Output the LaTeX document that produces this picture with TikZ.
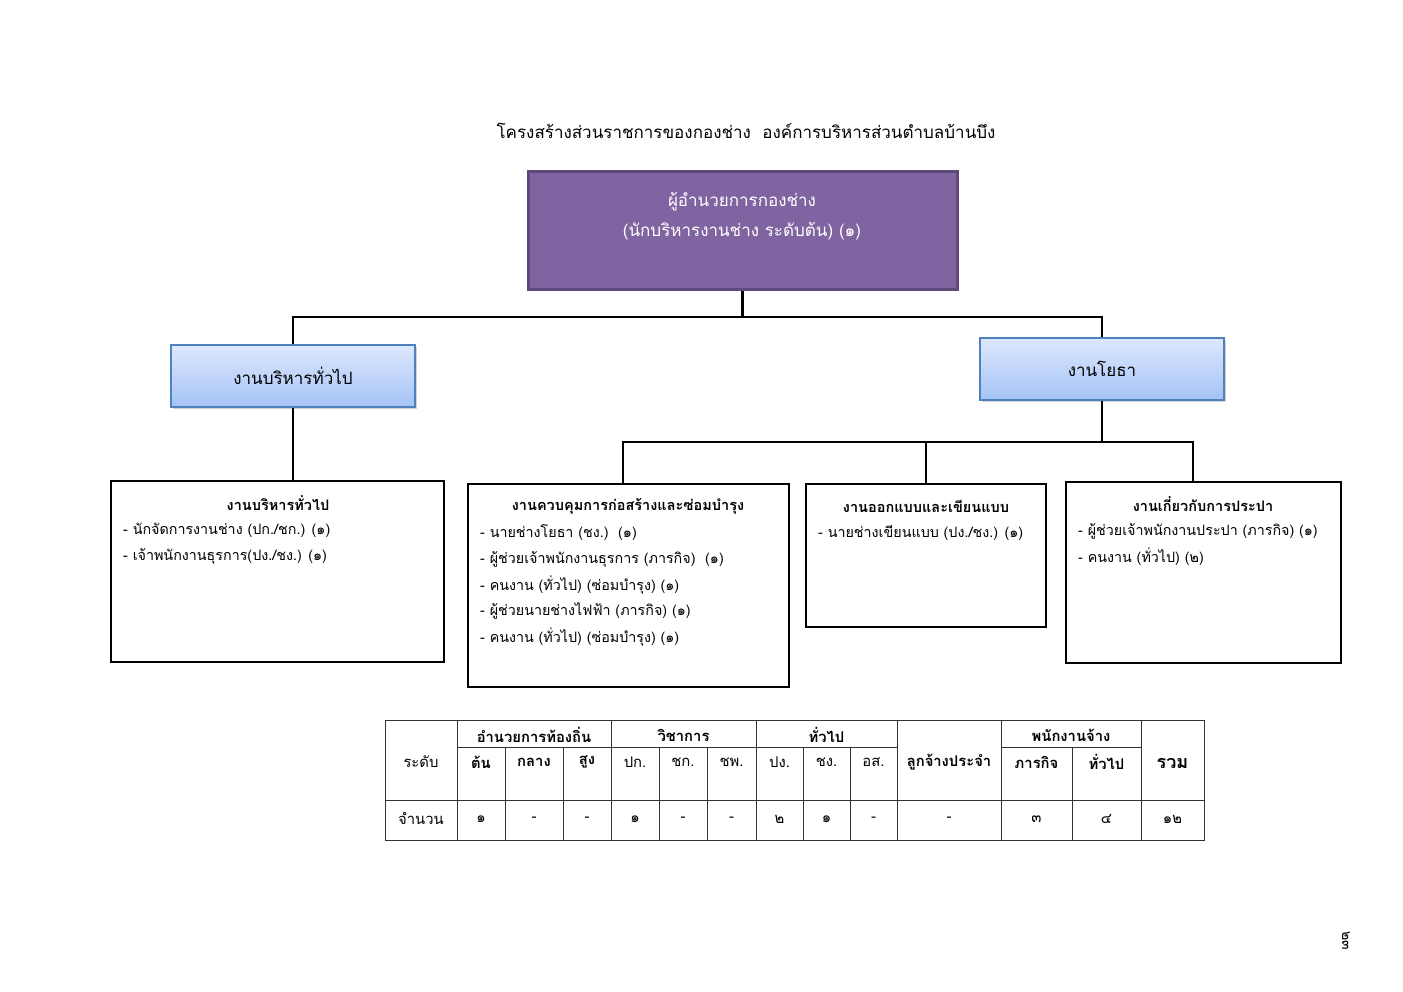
\documentclass[tikz,border=0pt]{standalone}
\usepackage{fontspec}
\setmainfont[Script=Thai]{Loma}
\usetikzlibrary{shadows,calc}
\definecolor{dirfill}{HTML}{8064A2}
\definecolor{dirline}{HTML}{5F497A}
\definecolor{secline}{HTML}{4F81BD}
\definecolor{sectop}{HTML}{DDE8FD}
\definecolor{secbot}{HTML}{A5C3F6}
\tikzset{
 dirbox/.style={draw=dirline, line width=3pt, fill=dirfill, minimum width=429pt, minimum height=118pt, inner sep=0pt},
 secbox/.style={draw=secline, line width=1.5pt, top color=sectop, bottom color=secbot, minimum width=244pt, minimum height=62pt, inner sep=0pt, drop shadow={opacity=0.35, shadow xshift=2pt, shadow yshift=-2pt}, font=\fontsize{17}{19}\selectfont},
 workbox/.style={draw=black, line width=2pt, inner sep=0pt},
 conn/.style={line width=2.5pt, black},
 wtitle/.style={font=\bfseries\fontsize{14.5}{16}\selectfont, inner sep=0pt},
 witem/.style={anchor=west, font=\fontsize{14.3}{16}\selectfont, inner sep=0pt},
 tline/.style={line width=0.8pt, black!80},
 th/.style={font=\bfseries\fontsize{14.8}{16}\selectfont, inner sep=0pt},
 td/.style={font=\fontsize{14.8}{16}\selectfont, inner sep=0pt},
}
\begin{document}
\begin{tikzpicture}[x=1pt,y=-1pt]
\useasboundingbox[fill=white] (0,0) rectangle (1403,992);
% title
\node[font=\fontsize{17}{19}\selectfont, inner sep=0pt] (title) at (746,131) {โครงสร้างส่วนราชการของกองช่าง\ \ องค์การบริหารส่วนตำบลบ้านบึง};
% director
\node[dirbox] (dir) at (742.5,231) {};
\node[text=white, font=\fontsize{17}{30}\selectfont, align=center, inner sep=0pt] (dirtext) at (742,216) {ผู้อำนวยการกองช่าง\\(นักบริหารงานช่าง ระดับต้น) (๑)};
% sections
\node[secbox] (adm) at (293,376) {งานบริหารทั่วไป};
\node[secbox] (civ) at (1102,369) {งานโยธา};
% work boxes
\node[workbox, minimum width=333pt, minimum height=181pt] (b1) at (277.5,571.5) {};
\node[workbox, minimum width=321pt, minimum height=203pt] (w1) at (628.5,585.5) {};
\node[workbox, minimum width=240pt, minimum height=143pt] (w2) at (926,555.5) {};
\node[workbox, minimum width=275pt, minimum height=181pt] (w3) at (1203.5,572.5) {};
% connectors
\coordinate (j1) at (742.5,317);
\coordinate (j2) at (1102,442);
\draw[conn] (dir.south) -- (j1);
\draw[conn] (j1) -| (adm.north);
\draw[conn] (j1) -| (civ.north);
\draw[conn] (adm.south) -- (adm.south |- b1.north);
\draw[conn] (civ.south) -- (j2);
\draw[conn] (j2) -| ([xshift=-5.5pt]w1.north);
\draw[conn] (j2) -| (w2.north);
\draw[conn] (j2) -| ([xshift=-10.5pt]w3.north);
% box 1 text
\node[wtitle] (b1t) at (278,503) {งานบริหารทั่วไป};
\node[witem] (b1i1) at (123,530) {- นักจัดการงานช่าง (ปก./ชก.) (๑)};
\node[witem] (b1i2) at (123,556) {- เจ้าพนักงานธุรการ(ปง./ชง.) (๑)};
% box w1 text
\node[wtitle] (w1t) at (628,506) {งานควบคุมการก่อสร้างและซ่อมบำรุง};
\node[witem] (w1i1) at (480,533) {- นายช่างโยธา (ชง.)\ \ (๑)};
\node[witem] (w1i2) at (480,559) {- ผู้ช่วยเจ้าพนักงานธุรการ (ภารกิจ)\ \ (๑)};
\node[witem] (w1i3) at (480,585) {- คนงาน (ทั่วไป) (ซ่อมบำรุง) (๑)};
\node[witem] (w1i4) at (480,611) {- ผู้ช่วยนายช่างไฟฟ้า (ภารกิจ) (๑)};
\node[witem] (w1i5) at (480,637) {- คนงาน (ทั่วไป) (ซ่อมบำรุง) (๑)};
% box w2 text
\node[wtitle] (w2t) at (926,506) {งานออกแบบและเขียนแบบ};
\node[witem] (w2i1) at (818,533) {- นายช่างเขียนแบบ (ปง./ชง.) (๑)};
% box w3 text
\node[wtitle] (w3t) at (1203,504) {งานเกี่ยวกับการประปา};
\node[witem] (w3i1) at (1078,531) {- ผู้ช่วยเจ้าพนักงานประปา (ภารกิจ) (๑)};
\node[witem] (w3i2) at (1078,557) {- คนงาน (ทั่วไป) (๒)};
% table
\draw[tline] (385,720) rectangle (1204,840);
\draw[tline] (385,800) -- (1204,800);
\draw[tline] (457,747) -- (897,747);
\draw[tline] (1001,747) -- (1141,747);
\foreach \x in {457,611,756,897,1001,1141} \draw[tline] (\x,720) -- (\x,840);
\foreach \x in {505,563,659,707,803,850,1072} \draw[tline] (\x,747) -- (\x,840);
\node[th] (g1) at (534,735) {อำนวยการท้องถิ่น};
\node[th] (g2) at (683.5,735) {วิชาการ};
\node[th] (g3) at (826.5,735) {ทั่วไป};
\node[th] (g4) at (1071,735) {พนักงานจ้าง};
\node[td] (h0) at (421,762) {ระดับ};
\node[th] (h1) at (481,762) {ต้น};
\node[th] (h2) at (534,762) {กลาง};
\node[th] (h3) at (587,762) {สูง};
\node[td] (h4) at (635,762) {ปก.};
\node[td] (h5) at (683,762) {ชก.};
\node[td] (h6) at (731.5,762) {ชพ.};
\node[td] (h7) at (779.5,762) {ปง.};
\node[td] (h8) at (826.5,762) {ชง.};
\node[td] (h9) at (873.5,762) {อส.};
\node[th] (h10) at (949,762) {ลูกจ้างประจำ};
\node[th] (h11) at (1036.5,762) {ภารกิจ};
\node[th] (h12) at (1106.5,762) {ทั่วไป};
\node[th, font=\bfseries\fontsize{18}{20}\selectfont] (h13) at (1172.5,763) {รวม};
\node[td] (d0) at (421,819) {จำนวน};
\node[td] (d1) at (481,819) {๑};
\node[td] (d2) at (534,819) {-};
\node[td] (d3) at (587,819) {-};
\node[td] (d4) at (635,819) {๑};
\node[td] (d5) at (683,819) {-};
\node[td] (d6) at (731.5,819) {-};
\node[td] (d7) at (779.5,819) {๒};
\node[td] (d8) at (826.5,819) {๑};
\node[td] (d9) at (873.5,819) {-};
\node[td] (d10) at (949,819) {-};
\node[td] (d11) at (1036.5,819) {๓};
\node[td] (d12) at (1106.5,819) {๔};
\node[td] (d13) at (1172.5,819) {๑๒};
% page number
\node[td, rotate=-90, font=\fontsize{14}{16}\selectfont] (pg) at (1346,941) {๒๓};
\end{tikzpicture}
\end{document}
